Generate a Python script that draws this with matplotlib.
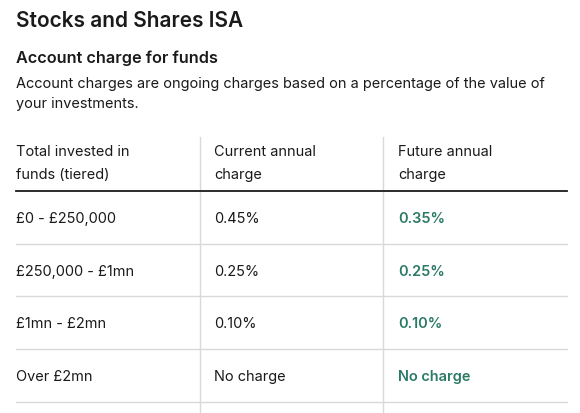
import matplotlib
matplotlib.use("Agg")
import matplotlib.pyplot as plt
from matplotlib.lines import Line2D

plt.rcParams['font.family'] = ['Inter', 'DejaVu Sans']

title = "Stocks and Shares ISA"
subtitle = "Account charge for funds"
description = ["Account charges are ongoing charges based on a percentage of the value of",
               "your investments."]
headers = [["Total invested in", "funds (tiered)"],
           ["Current annual", "charge"],
           ["Future annual", "charge"]]
tiers = ["£0 - £250,000", "£250,000 - £1mn", "£1mn - £2mn", "Over £2mn"]
current_charge = ["0.45%", "0.25%", "0.10%", "No charge"]
future_charge = ["0.35%", "0.25%", "0.10%", "No charge"]

W, H = 580, 413
fig = plt.figure(figsize=(W / 100, H / 100), dpi=100)
ax = fig.add_axes([0, 0, 1, 1])
ax.set_xlim(0, W)
ax.set_ylim(H, 0)
ax.axis('off')

dark = "#1a1a1a"
green = "#2b7a66"
grid = "#d9d9d9"
fs = 10.45

ax.text(16, 27, title, fontsize=15.0, fontweight='semibold', color=dark, va='baseline')
ax.text(16, 63, subtitle, fontsize=11.7, fontweight='semibold', color=dark, va='baseline')
for i, line in enumerate(description):
    ax.text(16, 88 + i * 20, line, fontsize=fs, color=dark, va='baseline')

col_x = [16, 214, 398]
sep_x = [200, 383]
for j, hdr in enumerate(headers):
    for k, line in enumerate(hdr):
        ax.text(col_x[j], 156 + k * 23, line, fontsize=fs, color=dark, va='baseline')

for sx in sep_x:
    ax.add_line(Line2D([sx, sx], [137, H], color=grid, lw=1.0))
ax.add_line(Line2D([16, 567], [191, 191], color=dark, lw=1.3))

row_top = 191
row_h = 52.7
for i in range(len(tiers)):
    base = row_top + row_h * i + 32
    ax.text(col_x[0], base, tiers[i], fontsize=fs, color=dark, va='baseline')
    ax.text(col_x[1], base, current_charge[i], fontsize=fs, color=dark, va='baseline')
    ax.text(col_x[2], base, future_charge[i], fontsize=fs, color=green,
            fontweight='semibold', va='baseline')
    yl = row_top + row_h * (i + 1)
    ax.add_line(Line2D([16, 567], [yl, yl], color=grid, lw=1.0))

fig.savefig("out.png", dpi=100, facecolor='white')
